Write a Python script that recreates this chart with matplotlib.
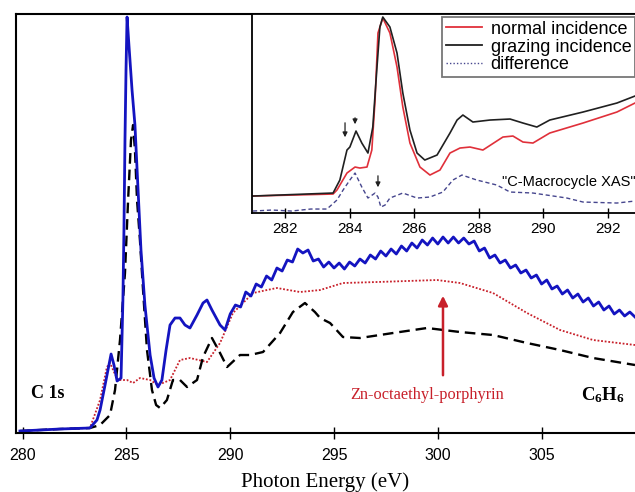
import matplotlib
matplotlib.use("Agg")
import matplotlib.pyplot as plt
from matplotlib.lines import Line2D

plt.rcParams["mathtext.fontset"] = "custom"
plt.rcParams["mathtext.bf"] = "Liberation Serif:bold"
plt.rcParams["mathtext.rm"] = "Liberation Serif"

# main panel: C 1s NEXAFS (photon energy in eV, intensity in arb. units)
blue_E = [279.87, 280.84, 281.80, 283.24, 283.58, 283.73, 283.97, 284.26, 284.40, 284.55,
          284.74, 284.83, 284.88, 284.93, 284.98, 285.03, 285.12, 285.27, 285.41, 285.56,
          285.70, 285.89, 286.14, 286.33, 286.52, 286.71, 286.91, 287.10, 287.34, 287.58,
          287.82, 288.06, 288.40, 288.69, 288.88, 289.12, 289.51, 289.75,
          290.00, 290.25, 290.50, 290.75, 291.00, 291.25, 291.50, 291.75, 292.00, 292.25,
          292.50, 292.75, 293.00, 293.25, 293.50, 293.75, 294.00, 294.25, 294.50, 294.75,
          295.00, 295.25, 295.50, 295.75, 296.00, 296.25, 296.50, 296.75, 297.00, 297.25,
          297.50, 297.75, 298.00, 298.25, 298.50, 298.75, 299.00, 299.25, 299.50, 299.75,
          300.00, 300.25, 300.50, 300.75, 301.00, 301.25, 301.50, 301.75, 302.00, 302.25,
          302.50, 302.75, 303.00, 303.25, 303.50, 303.75, 304.00, 304.25, 304.50, 304.75,
          305.00, 305.25, 305.50, 305.75, 306.00, 306.25, 306.50, 306.75, 307.00, 307.25,
          307.50, 307.75, 308.00, 308.25, 308.50, 308.75, 309.00, 309.25, 309.50]
blue_I = [0.02, 0.03, 0.04, 0.05, 0.13, 0.23, 0.48, 0.79, 0.68, 0.52,
          0.55, 1.33, 2.03, 2.93, 3.63, 4.16, 3.88, 3.43, 3.08, 2.43,
          1.83, 1.28, 0.78, 0.55, 0.46, 0.53, 0.83, 1.08, 1.15, 1.15,
          1.08, 1.05, 1.18, 1.30, 1.33, 1.23, 1.08, 1.03,
          1.19, 1.28, 1.26, 1.41, 1.37, 1.49, 1.46, 1.57, 1.53, 1.65,
          1.62, 1.73, 1.71, 1.84, 1.80, 1.83, 1.72, 1.74, 1.66, 1.71,
          1.65, 1.70, 1.64, 1.71, 1.67, 1.74, 1.70, 1.78, 1.74, 1.82,
          1.77, 1.84, 1.79, 1.87, 1.82, 1.90, 1.85, 1.93, 1.88, 1.95,
          1.89, 1.96, 1.90, 1.96, 1.90, 1.95, 1.89, 1.92, 1.82, 1.85,
          1.75, 1.78, 1.70, 1.73, 1.65, 1.68, 1.60, 1.63, 1.55, 1.58,
          1.49, 1.53, 1.44, 1.47, 1.39, 1.43, 1.35, 1.39, 1.31, 1.35,
          1.27, 1.31, 1.23, 1.27, 1.19, 1.23, 1.17, 1.21, 1.16]

red_E = [279.87, 281.80, 283.24, 283.73, 284.06, 284.21, 284.40, 284.59, 285.03, 285.32,
         285.65, 286.14, 286.52, 287.10, 287.58, 288.06, 288.88, 289.51, 290.13, 291.10,
         291.77, 292.25, 293.36, 294.33, 295.43, 297.07, 299.96, 301.07, 302.66, 304.30,
         305.89, 307.48, 309.50]
red_I = [0.02, 0.04, 0.05, 0.33, 0.66, 0.70, 0.61, 0.53, 0.53, 0.50,
         0.55, 0.53, 0.48, 0.53, 0.73, 0.75, 0.71, 0.90, 1.20, 1.40,
         1.43, 1.45, 1.41, 1.43, 1.50, 1.51, 1.53, 1.50, 1.40, 1.20,
         1.03, 0.93, 0.88]

black_E = [279.87, 281.80, 283.24, 283.73, 284.21, 284.45, 284.69, 284.93, 285.08, 285.22,
           285.32, 285.41, 285.51, 285.65, 285.80, 285.99, 286.23, 286.43, 286.62, 286.95,
           287.24, 287.58, 287.92, 288.40, 288.69, 289.12, 289.51, 289.85, 290.47, 290.95,
           291.58, 292.40, 293.02, 293.60, 294.08, 294.33, 294.81, 295.43, 296.25, 297.84,
           299.48, 301.07, 302.66, 304.30, 305.89, 307.48, 309.50]
black_I = [0.02, 0.04, 0.05, 0.08, 0.18, 0.43, 0.93, 1.60, 2.33, 2.93,
           3.08, 2.83, 2.33, 1.93, 1.43, 0.83, 0.43, 0.28, 0.25, 0.33,
           0.53, 0.53, 0.46, 0.53, 0.76, 0.95, 0.80, 0.66, 0.78, 0.78,
           0.81, 1.00, 1.21, 1.30, 1.21, 1.15, 1.10, 0.96, 0.95, 1.00,
           1.05, 1.01, 0.98, 0.90, 0.83, 0.75, 0.68]

# inset: C-macrocycle XAS
ins_E = [281.01, 283.49, 283.70, 283.92, 284.01, 284.20, 284.38, 284.57, 284.72, 284.85,
         284.94, 285.03, 285.25, 285.47, 285.65, 285.87, 286.09, 286.33, 286.71, 287.11,
         287.33, 287.51, 287.82, 288.35, 288.97, 289.37, 289.80, 290.20, 291.23, 292.28, 292.84]
grazing = [0.17, 0.20, 0.33, 0.63, 0.66, 0.82, 0.70, 0.60, 0.86, 1.46,
           1.86, 1.96, 1.86, 1.60, 1.20, 0.83, 0.60, 0.53, 0.58, 0.80,
           0.93, 0.98, 0.91, 0.93, 0.94, 0.90, 0.86, 0.93, 1.01, 1.10, 1.17]

norm_E = [281.01, 283.49, 283.61, 283.92, 284.17, 284.32, 284.54, 284.69, 284.79, 284.88,
          285.03, 285.25, 285.47, 285.65, 285.87, 286.18, 286.49, 286.80, 287.11, 287.42,
          287.73, 288.13, 288.75, 289.06, 289.37, 289.68, 290.20, 291.23, 292.28, 292.84]
normal = [0.17, 0.19, 0.23, 0.40, 0.46, 0.45, 0.46, 0.63, 1.13, 1.80,
          1.95, 1.80, 1.46, 1.06, 0.70, 0.46, 0.38, 0.43, 0.60, 0.65,
          0.66, 0.63, 0.76, 0.77, 0.71, 0.70, 0.80, 0.90, 1.01, 1.10]

diff_E = [281.01, 281.60, 282.20, 282.80, 283.30, 283.61, 283.80, 284.01, 284.17, 284.38,
          284.57, 284.79, 284.88, 284.97, 285.10, 285.25, 285.65, 286.09, 286.49, 286.89,
          287.20, 287.48, 287.94, 288.56, 288.97, 289.68, 290.73, 291.23, 292.28, 292.84]
difference = [0.02, 0.03, 0.02, 0.04, 0.04, 0.13, 0.23, 0.33, 0.40, 0.26,
              0.15, 0.20, 0.16, 0.06, 0.08, 0.15, 0.20, 0.15, 0.16, 0.21,
              0.33, 0.38, 0.33, 0.28, 0.21, 0.20, 0.15, 0.11, 0.10, 0.12]

fig = plt.figure(figsize=(6.35, 4.92), dpi=100)
ax = fig.add_axes([0.0252, 0.1199, 0.9748, 0.8516])

ax.plot(red_E, red_I, color="#c8202a", lw=1.3, ls=(0, (1, 1)))
ax.plot(black_E, black_I, color="black", lw=1.7, ls=(0, (4.5, 2.5)))
ax.plot(blue_E, blue_I, color="#1414c0", lw=2.0)

ax.set_xlim(279.68, 309.5)
ax.set_ylim(0, 4.19)
ax.set_xticks([280, 285, 290, 295, 300, 305])
ax.set_yticks([])
ax.tick_params(axis="x", direction="inout", length=9, width=1, pad=6, labelsize=11.5)
for lab in ax.get_xticklabels():
    lab.set_family("Liberation Sans")
for s in ["left", "bottom", "top"]:
    ax.spines[s].set_linewidth(1.5)
ax.spines["right"].set_visible(False)
ax.set_xlabel("Photon Energy (eV)", family="Liberation Serif", fontsize=15, labelpad=7)

ax.annotate("", xy=(300.25, 1.40), xytext=(300.25, 0.55),
            arrowprops=dict(arrowstyle="-|>", color="#c8202a", lw=1.8, mutation_scale=14))
ax.text(299.48, 0.38, "Zn-octaethyl-porphyrin", color="#c8202a", family="Liberation Serif",
        fontsize=11.8, ha="center", va="center")
ax.text(281.22, 0.40, "C 1s", family="Liberation Serif", fontweight="bold",
        fontsize=13, ha="center", va="center")
ax.text(307.96, 0.38, r"$\mathbf{C_6H_6}$", fontsize=13.5, ha="center", va="center")

# inset
ins = fig.add_axes([0.3969, 0.567, 0.6031, 0.4045])
ins.plot(norm_E, normal, color="#e0303a", lw=1.2)
ins.plot(ins_E, grazing, color="#202020", lw=1.2)
ins.plot(diff_E, difference, color="#46468e", lw=1.0, ls=(0, (3, 2)))
ins.set_xlim(280.98, 292.84)
ins.set_ylim(0, 1.99)
ins.set_xticks([282, 284, 286, 288, 290, 292])
ins.set_yticks([])
ins.tick_params(axis="x", direction="inout", length=7, width=1, pad=3, labelsize=11)
for lab in ins.get_xticklabels():
    lab.set_family("Liberation Sans")
for s in ["left", "bottom", "top"]:
    ins.spines[s].set_linewidth(1.3)
ins.spines["right"].set_visible(False)

for x0, y0, y1 in [(283.86, 0.93, 0.73), (284.17, 0.98, 0.86), (284.88, 0.40, 0.23)]:
    ins.annotate("", xy=(x0, y1), xytext=(x0, y0),
                 arrowprops=dict(arrowstyle="-|>", color="#202020", lw=0.9, mutation_scale=7))
ins.text(290.79, 0.31, '"C-Macrocycle XAS"', family="Liberation Sans", fontsize=10.5,
         ha="center", va="center")

handles = [Line2D([], [], color="#e0303a", lw=1.3),
           Line2D([], [], color="#202020", lw=1.3),
           Line2D([], [], color="#46468e", lw=1.0, ls=(0, (1, 1.5)))]
leg = ins.legend(handles, ["normal incidence", "grazing incidence", "difference"],
                 loc="upper right", bbox_to_anchor=(1.0, 0.985), fancybox=False,
                 prop={"family": "Liberation Sans", "size": 13}, handlelength=2.0,
                 labelspacing=0.05, borderpad=0.2, handletextpad=0.5, borderaxespad=0.0)
leg.get_frame().set_edgecolor("#555555")
leg.get_frame().set_linewidth(1.3)

fig.savefig("out.png", dpi=100)
